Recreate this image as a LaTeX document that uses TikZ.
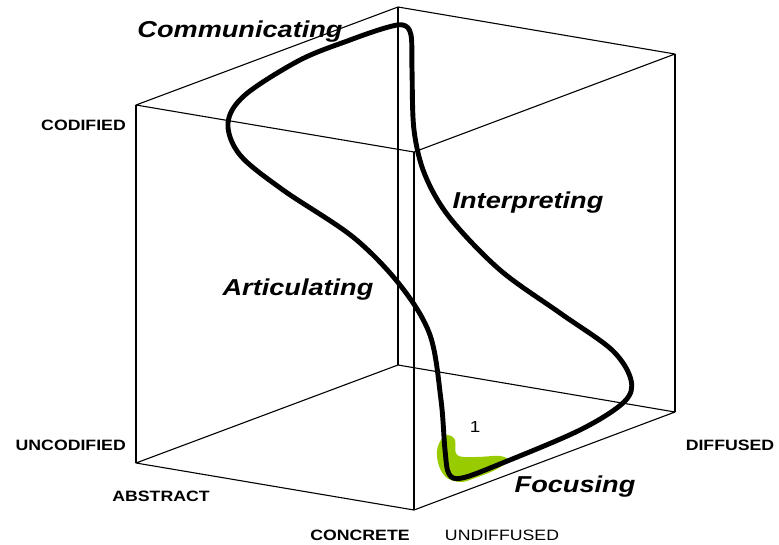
\documentclass[tikz,border=0pt]{standalone}
\usepackage{fontspec}
\setmainfont{Liberation Sans}
\usepackage{graphicx}
\definecolor{leafgreen}{RGB}{153,204,0}
\newcommand{\wide}[1]{\scalebox{1.18}[1]{#1}}

\begin{document}
\begin{tikzpicture}[x=1pt,y=-1pt,
  edge/.style={line width=1.1pt,line join=round},
  scurve/.style={line width=4.9pt,line join=round},
  stage/.style={inner sep=0pt,font=\fontsize{23}{23}\selectfont\bfseries\itshape},
  pole/.style={inner sep=0pt,font=\fontsize{15}{15}\selectfont\bfseries}]
  \useasboundingbox (0,0) rectangle (779,544);
  \foreach \c/\x/\y in {L/136/105,B/398/7,R/675/54,F/414/152} {
    \coordinate (t\c) at (\x,\y);
    \coordinate (b\c) at (\x,\y+358);
  }
  \draw[edge] (tL) -- (tB) -- (tR) -- (tF) -- cycle;
  \draw[edge] (bL) -- (bB) -- (bR) -- (bF) -- cycle;
  \foreach \c in {L,B,R,F}
    \draw[edge] (t\c) -- (b\c);
  \fill[leafgreen] plot[smooth cycle,tension=0.6] coordinates {
    (441,440) (448,435) (455,440) (457,455) (475,457) (500,456) (508,461)
    (495,470) (475,478) (461,482) (447,478) (439,466) (437,451)};
  \draw[scurve] plot[smooth cycle,tension=0.55] coordinates {
    (385,28) (403,25) (411,35) (412,70) (414,130) (425,175) (450,218)
    (500,270) (560,313) (612,350) (631,380) (624,402) (580,430)
    (500,464) (462,478) (449,474) (445,450) (441,400) (430,335)
    (400,285) (353,237) (283,190) (240,155) (228,123) (245,95)
    (300,60) (350,40)};
  \node[stage,anchor=base] (comm) at (240,37) {\wide{Communicating}};
  \node[stage,anchor=base] (interp) at (528,208) {\wide{Interpreting}};
  \node[stage,anchor=base] (artic) at (298,295) {\wide{Articulating}};
  \node[stage,anchor=base] (focus) at (575,492) {\wide{Focusing}};
  \node[pole,anchor=base east] (cod) at (126,130) {\wide{CODIFIED}};
  \node[pole,anchor=base east] (uncod) at (126,450) {\wide{UNCODIFIED}};
  \node[pole,anchor=base] (abstr) at (161,501) {\wide{ABSTRACT}};
  \node[pole,anchor=base] (concr) at (360,540) {\wide{CONCRETE}};
  \node[pole,anchor=base,font=\fontsize{15}{15}\selectfont] (undiff) at (502,540) {\wide{UNDIFFUSED}};
  \node[pole,anchor=base] (diff) at (730,450) {\wide{DIFFUSED}};
  \node[pole,anchor=base,font=\fontsize{16}{16}\selectfont] (one) at (475,432) {\wide{1}};
\end{tikzpicture}
\end{document}
